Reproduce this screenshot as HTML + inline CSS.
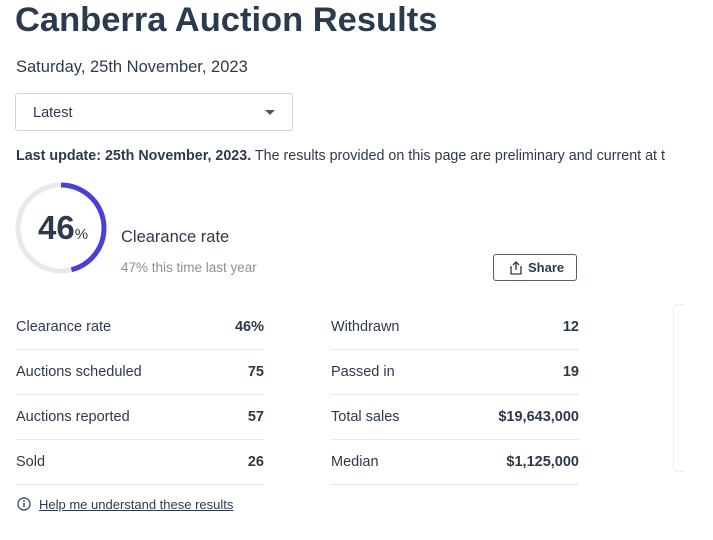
<!DOCTYPE html>
<html><head><style>
body{margin:0;width:713px;height:540px;background:#fff;font-family:"Liberation Sans",sans-serif;color:#2e3a4b;position:relative;overflow:hidden}
.a{position:absolute;white-space:nowrap}
.row{position:absolute;height:45px;border-bottom:1px solid #e6e8eb;font-size:14.5px;line-height:47px}
.row span{position:absolute}
.row b{position:absolute;right:0}
</style></head><body>
<div class="a" style="left:15px;top:1px;font-size:34.5px;font-weight:bold;color:#2c3a4f">Canberra Auction Results</div>
<div class="a" style="left:16px;top:58px;font-size:16.5px">Saturday, 25th November, 2023</div>
<div class="a" style="left:15px;top:93px;width:278px;height:38px;border:1px solid #cfd3d8;border-radius:3px;box-sizing:border-box">
<span class="a" style="left:17px;top:11px;font-size:14.5px">Latest</span>
<span class="a" style="left:249px;top:16px;width:0;height:0;border-left:5px solid transparent;border-right:5px solid transparent;border-top:5px solid #555"></span></div>
<div class="a" style="left:16px;top:148px;font-size:14.3px"><b>Last update: 25th November, 2023.</b> The results provided on this page are preliminary and current at t</div>
<svg class="a" style="left:0;top:170px" width="120" height="120">
<circle cx="61" cy="58" r="43" fill="none" stroke="#e8e9ec" stroke-width="5"/>
<circle cx="61" cy="58" r="43" fill="none" stroke="#4a3fd9" stroke-width="5" stroke-dasharray="124.3 400" transform="rotate(-90 61 58)"/>
</svg>
<div class="a" style="left:38px;top:209px;font-size:33px;font-weight:bold;color:#2e3a4b">46<span style="font-size:15px;font-weight:normal">%</span></div>
<div class="a" style="left:121px;top:228px;font-size:16.5px">Clearance rate</div>
<div class="a" style="left:121px;top:260px;font-size:13.5px;color:#8a919b">47% this time last year</div>
<div class="a" style="left:493px;top:254px;width:84px;height:27px;border:1px solid #56606c;border-radius:3px;box-sizing:border-box;font-size:13px;font-weight:bold;line-height:25px">
<svg class="a" style="left:15px;top:6px" width="14" height="14"><path d="M3 6H2v7h10V6h-1M7 9V1M4 4l3-3 3 3" fill="none" stroke="#2e3a4b" stroke-width="1.3"/></svg>
<span class="a" style="left:34px">Share</span></div>
<div class="row" style="left:16px;top:304px;width:248px"><span>Clearance rate</span><b>46%</b></div>
<div class="row" style="left:16px;top:349px;width:248px"><span>Auctions scheduled</span><b>75</b></div>
<div class="row" style="left:16px;top:394px;width:248px"><span>Auctions reported</span><b>57</b></div>
<div class="row" style="left:16px;top:439px;width:248px"><span>Sold</span><b>26</b></div>
<div class="row" style="left:331px;top:304px;width:248px"><span>Withdrawn</span><b>12</b></div>
<div class="row" style="left:331px;top:349px;width:248px"><span>Passed in</span><b>19</b></div>
<div class="row" style="left:331px;top:394px;width:248px"><span>Total sales</span><b>$19,643,000</b></div>
<div class="row" style="left:331px;top:439px;width:248px"><span>Median</span><b>$1,125,000</b></div>
<div class="a" style="left:673px;top:304px;width:10px;height:166px;border-left:1px solid #eceef0;border-top:1px solid #eceef0;border-bottom:1px solid #eceef0;border-radius:4px 0 0 4px"></div>
<svg class="a" style="left:17px;top:497px" width="15" height="15"><circle cx="7" cy="7" r="6" fill="none" stroke="#2e3a4b" stroke-width="1.2"/><path d="M7 6v4" stroke="#2e3a4b" stroke-width="1.4"/><circle cx="7" cy="4" r=".9" fill="#2e3a4b"/></svg>
<div class="a" style="left:39px;top:497px;font-size:13px;text-decoration:underline">Help me understand these results</div>
</body></html>
